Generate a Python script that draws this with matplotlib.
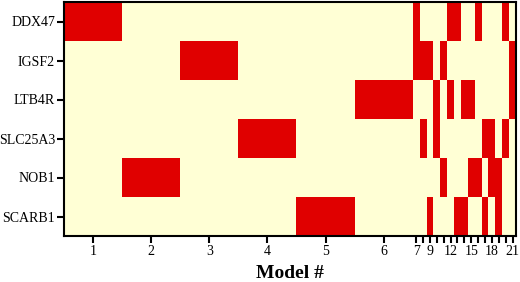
import numpy as np
import matplotlib
matplotlib.use("Agg")
import matplotlib.pyplot as plt
from matplotlib.colors import ListedColormap

genes = ["DDX47", "IGSF2", "LTB4R", "SLC25A3", "NOB1", "SCARB1"]
models = list(range(1, 22))
tick_labels = ["1", "2", "3", "4", "5", "6", "7", "", "9", "", "", "12", "", "", "15", "", "", "18", "", "", "21"]
# models in which each gene is present
ddx47 = [1, 7, 12, 13, 16, 20]
igsf2 = [3, 7, 8, 9, 11, 21]
ltb4r = [6, 10, 12, 14, 15, 21]
slc25a3 = [4, 8, 10, 17, 18, 20]
nob1 = [2, 11, 15, 16, 18, 19]
scarb1 = [5, 9, 13, 14, 17, 19]
membership = [ddx47, igsf2, ltb4r, slc25a3, nob1, scarb1]

# layout: models 1-6 drawn wide, 7-21 narrow
wide_w, narrow_w = 58.0, 6.87
widths = [wide_w if m <= 6 else narrow_w for m in models]
edges = np.concatenate([[0], np.cumsum(widths)])
centers = (edges[:-1] + edges[1:]) / 2

Z = np.zeros((len(genes), len(models)))
for i, mem in enumerate(membership):
    for m in mem:
        Z[i, models.index(m)] = 1

fig = plt.figure(figsize=(5.2, 2.82), dpi=100)
ax = fig.add_axes([64/520, 1-236/282, (516-64)/520, (236-2)/282])
cmap = ListedColormap(["#FFFFD5", "#E00000"])
yedges = np.arange(len(genes) + 1)
ax.pcolormesh(edges, yedges, Z, cmap=cmap, vmin=0, vmax=1)
ax.set_xlim(edges[0], edges[-1])
ax.set_ylim(len(genes), 0)
ax.set_xticks(centers)
ax.set_xticklabels(tick_labels, fontfamily="Liberation Serif", fontsize=10)
ax.set_yticks(np.arange(len(genes)) + 0.5)
ax.set_yticklabels(genes, fontfamily="Liberation Serif", fontsize=10)
ax.tick_params(axis="both", direction="out", length=5, width=1.5, color="black", pad=1.5)
for s in ax.spines.values():
    s.set_linewidth(1.5)
ax.set_xlabel("Model #", fontfamily="Liberation Serif", fontsize=14, fontweight="bold", labelpad=5)
fig.savefig("out.png", dpi=100)
